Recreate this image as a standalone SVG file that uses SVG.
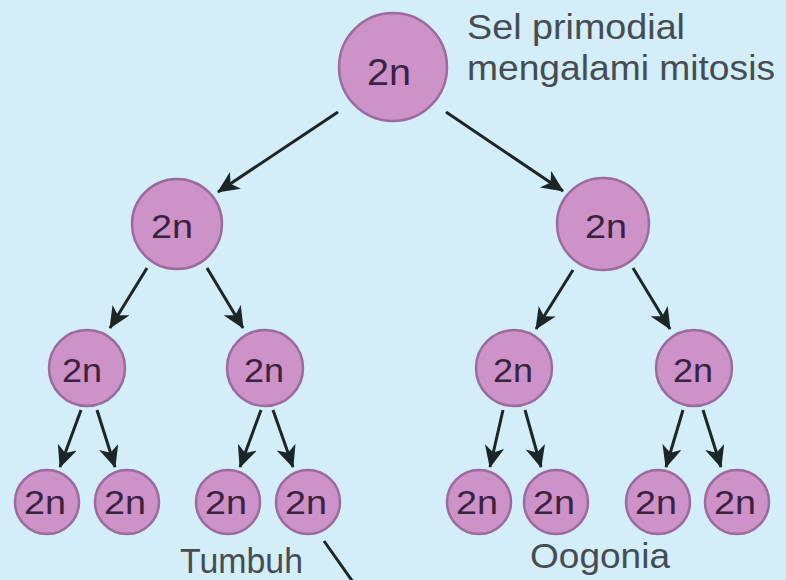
<svg xmlns="http://www.w3.org/2000/svg" width="786" height="580" viewBox="0 0 786 580">
<defs>
<style>
.cell{fill:#cd92c8;stroke:#9a6b9c;stroke-width:2.5}
.lbl{font-family:"Liberation Sans",Arial,sans-serif;fill:#3a2240;text-anchor:middle}
.txt{font-family:"Liberation Sans",Arial,sans-serif;fill:#454c52;font-size:35px}
.arr{stroke:#1c2627;stroke-width:3;fill:none;marker-end:url(#ah)}
</style>
<marker id="ah" markerUnits="userSpaceOnUse" markerWidth="26" markerHeight="22" refX="21" refY="10" orient="auto">
<path d="M0,0 L22,10 L0,20 L6,10 Z" fill="#1c2627"/>
</marker>
</defs>
<rect width="786" height="580" fill="#d3eef9"/>
<g id="connectors">
<line class="arr" x1="338" y1="112" x2="218" y2="192"/>
<line class="arr" x1="446" y1="112" x2="563" y2="191"/>
<line class="arr" x1="147" y1="268" x2="110" y2="328"/>
<line class="arr" x1="207" y1="268" x2="243" y2="328"/>
<line class="arr" x1="573" y1="270" x2="536" y2="329"/>
<line class="arr" x1="633" y1="268" x2="670" y2="329"/>
<line class="arr" x1="81" y1="410" x2="60" y2="467"/>
<line class="arr" x1="97" y1="410" x2="115" y2="467"/>
<line class="arr" x1="261" y1="410" x2="240" y2="467"/>
<line class="arr" x1="273" y1="410" x2="293" y2="467"/>
<line class="arr" x1="503" y1="410" x2="490" y2="467"/>
<line class="arr" x1="525" y1="410" x2="541" y2="467"/>
<line class="arr" x1="683" y1="410" x2="666" y2="467"/>
<line class="arr" x1="703" y1="410" x2="721" y2="467"/>
<line x1="324" y1="541" x2="353" y2="582" stroke="#1c2627" stroke-width="3"/>
</g>
<g id="n0"><circle class="cell" cx="393" cy="67" r="54"/><text class="lbl" x="389" y="85" font-size="37" textLength="44" lengthAdjust="spacingAndGlyphs">2n</text></g>
<g id="n1"><circle class="cell" cx="177" cy="224" r="45"/><text class="lbl" x="172" y="238" font-size="34" textLength="42" lengthAdjust="spacingAndGlyphs">2n</text></g>
<g id="n2"><circle class="cell" cx="603" cy="224" r="46"/><text class="lbl" x="606" y="238" font-size="34" textLength="42" lengthAdjust="spacingAndGlyphs">2n</text></g>
<g id="n3"><circle class="cell" cx="87" cy="368" r="38"/><text class="lbl" x="82" y="382" font-size="33" textLength="40" lengthAdjust="spacingAndGlyphs">2n</text></g>
<g id="n4"><circle class="cell" cx="265" cy="368" r="38"/><text class="lbl" x="264" y="382" font-size="33" textLength="40" lengthAdjust="spacingAndGlyphs">2n</text></g>
<g id="n5"><circle class="cell" cx="514" cy="368" r="38"/><text class="lbl" x="513" y="382" font-size="33" textLength="40" lengthAdjust="spacingAndGlyphs">2n</text></g>
<g id="n6"><circle class="cell" cx="694" cy="368" r="38"/><text class="lbl" x="693" y="382" font-size="33" textLength="40" lengthAdjust="spacingAndGlyphs">2n</text></g>
<g id="n7"><circle class="cell" cx="47" cy="502" r="32"/><text class="lbl" x="45" y="514" font-size="33" textLength="42" lengthAdjust="spacingAndGlyphs">2n</text></g>
<g id="n8"><circle class="cell" cx="127" cy="502" r="32"/><text class="lbl" x="125" y="514" font-size="33" textLength="42" lengthAdjust="spacingAndGlyphs">2n</text></g>
<g id="n9"><circle class="cell" cx="228" cy="502" r="32"/><text class="lbl" x="226" y="514" font-size="33" textLength="42" lengthAdjust="spacingAndGlyphs">2n</text></g>
<g id="n10"><circle class="cell" cx="308" cy="502" r="32"/><text class="lbl" x="306" y="514" font-size="33" textLength="42" lengthAdjust="spacingAndGlyphs">2n</text></g>
<g id="n11"><circle class="cell" cx="479" cy="502" r="32"/><text class="lbl" x="477" y="514" font-size="33" textLength="42" lengthAdjust="spacingAndGlyphs">2n</text></g>
<g id="n12"><circle class="cell" cx="556" cy="502" r="32"/><text class="lbl" x="554" y="514" font-size="33" textLength="42" lengthAdjust="spacingAndGlyphs">2n</text></g>
<g id="n13"><circle class="cell" cx="658" cy="502" r="32"/><text class="lbl" x="656" y="514" font-size="33" textLength="42" lengthAdjust="spacingAndGlyphs">2n</text></g>
<g id="n14"><circle class="cell" cx="737" cy="502" r="32"/><text class="lbl" x="735" y="514" font-size="33" textLength="42" lengthAdjust="spacingAndGlyphs">2n</text></g>
<g id="labels">
<text class="txt" x="467" y="39" textLength="218" lengthAdjust="spacingAndGlyphs">Sel primodial</text>
<text class="txt" x="467" y="80" textLength="308" lengthAdjust="spacingAndGlyphs">mengalami mitosis</text>
<text class="txt" x="180" y="573" font-size="33" textLength="123" lengthAdjust="spacingAndGlyphs">Tumbuh</text>
<text class="txt" x="530" y="568" textLength="140" lengthAdjust="spacingAndGlyphs">Oogonia</text>
</g>
</svg>
